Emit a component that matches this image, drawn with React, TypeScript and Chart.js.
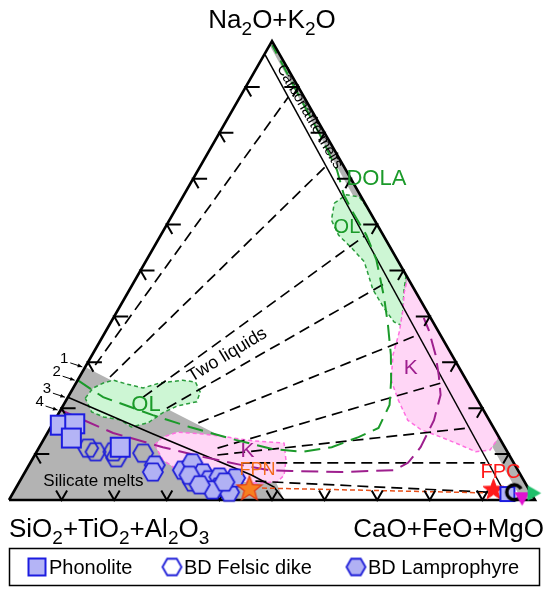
import React, { useEffect, useRef } from "react";
import { Chart, registerables } from "chart.js";

Chart.register(...registerables);

type TP = [number, number];

// Every composition is [CaO+FeO+MgO %, Na2O+K2O %]; SiO2+TiO2+Al2O3 is the remainder to 100 %.
const phonolite: TP[] = [[1.6, 16.3], [4.2, 16.6], [5.1, 13.5], [15.4, 11.5]];
const felsicDike: TP[] = [[9.4, 11.3], [11.2, 10.5], [14.6, 10.5], [15.8, 9.2], [20.4, 10.2], [33.0, 3.9], [37.8, 2.8]];
const lamprophyre: TP[] = [
  [23.9, 7.6], [24.3, 6.1], [29.8, 6.5], [30.8, 8.1], [33.9, 5.9], [31.6, 5.4], [35.9, 4.4],
  [37.5, 5.0], [38.6, 2.8], [41.0, 1.7], [40.6, 4.8], [37.6, 2.2], [34.6, 3.3], [39.0, 3.9],
];
const fpnPoint: TP[] = [[44.5, 2.4]];
const fpcPoint: TP[] = [[91.0, 2.2]];
const refSquare: TP[] = [[94.1, 1.3]];
const refRing: TP[] = [[95.2, 1.7]];
const refMagenta: TP[] = [[97.2, 0.7]];
const refGreen: TP[] = [[98.7, 1.5]];

const triangleOutline: TP[] = [[0, 0], [100, 0], [0, 100], [0, 0]];
const silicateField: TP[] = [[0, 0], [0, 29.0], [16.7, 21.4], [35.0, 13.1], [42.8, 8.7], [48.0, 4.8], [52.3, 0]];
const carbonatiteField: TP[] = [[0, 100], [100, 0], [97.5, 0], [0, 99.1]];
const olLeft: TP[] = [
  [3.4, 22.2], [3.8, 24.4], [5.2, 25.5], [6.8, 26.1], [9.6, 25.3], [13.3, 24.4], [15.9, 25.5], [20.0, 26.1],
  [22.6, 25.7], [24.6, 23.5], [25.0, 21.4], [21.8, 20.5], [19.7, 19.0], [18.0, 16.8], [15.3, 15.9],
  [12.6, 17.4], [8.9, 18.1], [6.1, 19.2],
];
const olRight: TP[] = [
  [29.5, 64.7], [30.9, 66.5], [33.6, 66.0], [36.8, 63.2], [51.0, 49.0], [52.2, 45.8], [54.2, 41.4],
  [55.5, 38.1], [53.8, 38.8], [50.4, 41.8], [46.3, 45.8], [41.6, 51.9], [37.7, 54.9], [33.8, 57.7], [30.8, 61.0],
];
const kLeft: TP[] = [
  [21.7, 12.0], [22.4, 13.7], [24.7, 14.8], [29.6, 14.4], [34.7, 13.7], [39.8, 12.9], [46.1, 12.4],
  [48.3, 8.7], [49.6, 5.4], [49.0, 3.9], [45.4, 3.7], [40.5, 4.1], [34.4, 4.8], [28.9, 6.5], [24.9, 8.7],
];
const kRight: TP[] = [
  [51.6, 48.4], [86.3, 13.7], [86.0, 10.9], [83.5, 10.5], [79.8, 12.0], [75.3, 13.7], [70.7, 15.3],
  [67.1, 17.4], [63.1, 21.8], [59.6, 26.1], [57.2, 31.6], [55.9, 36.6], [54.2, 41.4], [52.5, 45.3],
];
const solvusInner: TP[] = [[0.2, 97.0], [95.0, 0]];
const solvusBlack: TP[] = [[0, 22.4], [20.2, 14.4], [43.5, 5.4], [49.0, 2.8], [52.3, 0]];
const solvusOL: TP[] = [
  [0, 26.1], [6.7, 22.4], [18.1, 18.5], [26.4, 15.9], [36.5, 13.1], [44.5, 11.1], [50.4, 10.5], [55.6, 11.5],
  [59.6, 13.7], [62.4, 15.7], [62.0, 20.7], [59.6, 26.1], [56.8, 31.6], [53.0, 38.1], [49.2, 44.2],
  [43.7, 52.3], [39.1, 57.7], [34.2, 62.5], [30.4, 66.5], [26.4, 71.9], [19.4, 79.5], [10.3, 88.9], [0.5, 99.1],
];
const solvusK: TP[] = [
  [0, 19.6], [12.5, 14.6], [23.5, 11.5], [32.1, 9.4], [40.5, 7.6], [46.2, 6.5], [50.6, 6.3], [60.2, 6.1],
  [70.0, 6.5], [71.8, 8.1], [72.5, 11.5], [72.1, 17.4], [70.6, 22.9], [68.1, 27.2], [65.3, 31.6],
  [61.3, 37.0], [59.0, 39.7],
];
const tieLines: TP[][] = [
  [[1.7, 29.4], [9.2, 87.8]],
  [[5.8, 26.8], [23.9, 72.8]],
  [[14.3, 22.4], [38.8, 57.5]],
  [[20.0, 20.0], [48.4, 47.7]],
  [[27.6, 16.8], [59.8, 36.0]],
  [[34.0, 11.3], [69.9, 25.7]],
  [[34.7, 9.8], [79.7, 15.7]],
  [[40.3, 8.1], [86.5, 8.1]],
  [[44.8, 4.1], [90.1, 1.7]],
];
const fpnFpcLine: TP[] = [[46.8, 2.6], [92.1, 1.5]];
const tickValues = [10, 20, 30, 40, 50, 60, 70, 80, 90];
const boundaryNames = ["1", "2", "3", "4"];

const FONT = '"Liberation Sans", Arial, Helvetica, sans-serif';
const GREEN = "#1b9a2a";
const MAGENTA = "#9e1f8e";

const annotations: { text: string; at: TP; size: number; color: string; rot?: number }[] = [
  { text: "Silicate melts", at: [14.0, 4.1], size: 17, color: "#000" },
  { text: "Two liquids", at: [25.7, 31.6], size: 18, color: "#000", rot: -31 },
  { text: "OL", at: [15.7, 20.7], size: 22, color: GREEN },
  { text: "OL", at: [34.6, 59.3], size: 20, color: GREEN },
  { text: "DOLA", at: [34.9, 69.9], size: 22, color: GREEN },
  { text: "K", at: [62.0, 28.8], size: 21, color: MAGENTA },
  { text: "K", at: [40.0, 10.7], size: 21, color: MAGENTA },
  { text: "FPN", at: [44.0, 6.5], size: 18, color: "#f26a1b" },
  { text: "FPC", at: [90.4, 6.1], size: 20, color: "#ff1a1a" },
  { text: "Carbonatite melts", at: [15.4, 83.5], size: 15, color: "#000", rot: 60 },
];

const toXY = (p: TP) => ({ x: p[0] + p[1] / 2, y: p[1] });
const closed = (pts: TP[]) => [...pts, pts[0]].map(toXY);

function makeCanvas(s: number) {
  const c = document.createElement("canvas");
  c.width = s;
  c.height = s;
  return c;
}
function hexImage(r: number, fill: string | null, stroke: string, lw: number) {
  const s = Math.ceil(2 * r + lw + 2);
  const c = makeCanvas(s);
  const g = c.getContext("2d")!;
  g.beginPath();
  for (let i = 0; i < 6; i++) {
    const a = (Math.PI / 3) * i;
    const x = s / 2 + r * Math.cos(a);
    const y = s / 2 + r * Math.sin(a);
    if (i === 0) g.moveTo(x, y);
    else g.lineTo(x, y);
  }
  g.closePath();
  if (fill) {
    g.fillStyle = fill;
    g.fill();
  }
  g.strokeStyle = stroke;
  g.lineWidth = lw;
  g.stroke();
  return c;
}
function squareImage(side: number, fill: string, stroke: string, lw: number) {
  const s = Math.ceil(side + lw + 2);
  const c = makeCanvas(s);
  const g = c.getContext("2d")!;
  g.beginPath();
  g.rect((s - side) / 2, (s - side) / 2, side, side);
  g.fillStyle = fill;
  g.fill();
  g.strokeStyle = stroke;
  g.lineWidth = lw;
  g.stroke();
  return c;
}
function starImage(R: number, r: number, fill: string, stroke: string, lw: number) {
  const s = Math.ceil(2 * R + lw + 2);
  const c = makeCanvas(s);
  const g = c.getContext("2d")!;
  g.beginPath();
  for (let i = 0; i < 10; i++) {
    const a = -Math.PI / 2 + (i * Math.PI) / 5;
    const rr = i % 2 ? r : R;
    const x = s / 2 + rr * Math.cos(a);
    const y = s / 2 + rr * Math.sin(a);
    if (i === 0) g.moveTo(x, y);
    else g.lineTo(x, y);
  }
  g.closePath();
  g.fillStyle = fill;
  g.fill();
  g.strokeStyle = stroke;
  g.lineWidth = lw;
  g.stroke();
  return c;
}
function triImage(r: number, start: number, fill: string) {
  const s = Math.ceil(2 * r + 3);
  const c = makeCanvas(s);
  const g = c.getContext("2d")!;
  g.beginPath();
  for (let i = 0; i < 3; i++) {
    const a = start + (i * 2 * Math.PI) / 3;
    const x = s / 2 + r * Math.cos(a);
    const y = s / 2 + r * Math.sin(a);
    if (i === 0) g.moveTo(x, y);
    else g.lineTo(x, y);
  }
  g.closePath();
  g.fillStyle = fill;
  g.fill();
  return c;
}
function ringImage(r: number, stroke: string, lw: number) {
  const s = Math.ceil(2 * r + lw + 2);
  const c = makeCanvas(s);
  const g = c.getContext("2d")!;
  g.beginPath();
  g.arc(s / 2, s / 2, r, 0.25 * Math.PI, 1.85 * Math.PI);
  g.strokeStyle = stroke;
  g.lineWidth = lw;
  g.stroke();
  return c;
}

function chemText(ctx: CanvasRenderingContext2D, parts: [string, boolean][], x: number, y: number, size: number, align: string) {
  const big = `${size}px ${FONT}`;
  const small = `${Math.round(size * 0.74)}px ${FONT}`;
  let w = 0;
  for (const [t, sub] of parts) {
    ctx.font = sub ? small : big;
    w += ctx.measureText(t).width;
  }
  let cx = align === "center" ? x - w / 2 : align === "right" ? x - w : x;
  ctx.textAlign = "left";
  ctx.textBaseline = "alphabetic";
  for (const [t, sub] of parts) {
    ctx.font = sub ? small : big;
    ctx.fillText(t, cx, sub ? y + size * 0.27 : y);
    cx += ctx.measureText(t).width;
  }
}

export default function App() {
  const ref = useRef<HTMLCanvasElement>(null);
  useEffect(() => {
    const canvas = ref.current;
    if (!canvas) return;
    const openHex = hexImage(10, null, "#1e1ed8", 1.8);
    const openHexLegend = hexImage(9.5, "#ffffff", "#1e1ed8", 1.8);
    const fillHex = hexImage(10, "#b1b1f4", "#1e1ed8", 1.8);
    const fillHexLegend = hexImage(9.5, "#b1b1f4", "#1e1ed8", 1.8);
    const sq = squareImage(19, "#b4b4f6", "#1c1ce0", 2);
    const sqLegend = squareImage(17, "#b4b4f6", "#1c1ce0", 2);
    const smallSq = squareImage(14, "#b4b4f6", "#1c1ce0", 2);
    const starOrange = starImage(13, 5.5, "#f7801f", "#e53b17", 1.3);
    const starRed = starImage(11, 4.5, "#ff1a1a", "#ff1a1a", 1);
    const ring = ringImage(7.5, "#000", 3.5);
    const triMag = triImage(9, Math.PI / 2, "#e010d0");
    const triGreen = triImage(9, 0, "#1fbf6a");

    const ds: any[] = [];
    const addPoly = (pts: TP[], bg: string, border: string | null, dash: number[] = []) =>
      ds.push({
        data: closed(pts), backgroundColor: bg, borderColor: border || "rgba(0,0,0,0)",
        borderWidth: border ? 1.5 : 0, borderDash: dash, fill: "shape", pointRadius: 0, tension: 0, clip: false,
      });
    const addLine = (pts: TP[], color: string, width: number, dash: number[] = []) =>
      ds.push({
        data: pts.map(toXY), borderColor: color, borderWidth: width, borderDash: dash, fill: false,
        pointRadius: 0, tension: 0, clip: false, borderJoinStyle: "miter", borderCapStyle: "butt",
      });
    const addPts = (pts: TP[], img: HTMLCanvasElement) =>
      ds.push({
        data: pts.map(toXY), showLine: false, pointStyle: img, pointRadius: 9, pointHoverRadius: 9,
        pointBorderWidth: 0, fill: false, clip: false,
      });

    addPoly(silicateField, "#b3b3b3", null);
    addPoly(carbonatiteField, "#b3b3b3", null);
    addPoly(olLeft, "#cdf6d4", "#2a9c3c", [4, 3]);
    addPoly(olRight, "#cdf6d4", "#2a9c3c", [4, 3]);
    addPoly(kLeft, "#ffd6f6", "#ff6fe0", [4, 3]);
    addPoly(kRight, "#ffd6f6", "#ff6fe0", [4, 3]);
    tieLines.forEach((t) => addLine(t, "#000", 1.7, [11, 6]));
    addLine(solvusInner, "#000", 1.5);
    addLine(solvusBlack, "#000", 1.6);
    addLine(solvusOL, GREEN, 2, [16, 8]);
    addLine(solvusK, MAGENTA, 2, [17, 8]);
    addLine(fpnFpcLine, "#e8501a", 1.5, [5, 3]);
    const outlineIndex = ds.length;
    addLine(triangleOutline, "#000", 2.6);
    addPts(felsicDike, openHex);
    addPts(lamprophyre, fillHex);
    addPts(phonolite, sq);
    addPts(fpnPoint, starOrange);
    addPts(fpcPoint, starRed);
    addPts(refSquare, smallSq);
    addPts(refRing, ring);
    addPts(refMagenta, triMag);
    addPts(refGreen, triGreen);
    ds.forEach((d, i) => (d.order = ds.length - i));

    const pt = (chart: any, p: TP) => ({
      x: chart.scales.x.getPixelForValue(p[0] + p[1] / 2),
      y: chart.scales.y.getPixelForValue(p[1]),
    });

    const decor = {
      id: "ternaryDecor",
      afterDatasetDraw(chart: any, args: any) {
        if (args.index !== outlineIndex) return;
        const ctx = chart.ctx as CanvasRenderingContext2D;
        ctx.save();
        ctx.strokeStyle = "#000";
        ctx.lineWidth = 2;
        for (const t of tickValues) {
          let p = pt(chart, [0, t]);
          ctx.beginPath();
          ctx.moveTo(p.x + 14, p.y);
          ctx.lineTo(p.x, p.y);
          ctx.lineTo(p.x + 5.5, p.y + 9.5);
          ctx.stroke();
          p = pt(chart, [100 - t, t]);
          ctx.beginPath();
          ctx.moveTo(p.x - 14, p.y);
          ctx.lineTo(p.x, p.y);
          ctx.lineTo(p.x - 5.5, p.y + 9.5);
          ctx.stroke();
          p = pt(chart, [t, 0]);
          ctx.beginPath();
          ctx.moveTo(p.x - 5.5, p.y - 9.5);
          ctx.lineTo(p.x, p.y);
          ctx.lineTo(p.x + 5.5, p.y - 9.5);
          ctx.stroke();
        }
        ctx.restore();
      },
      afterDatasetsDraw(chart: any) {
        const ctx = chart.ctx as CanvasRenderingContext2D;
        ctx.save();
        for (const a of annotations) {
          const p = pt(chart, a.at);
          ctx.save();
          ctx.translate(p.x, p.y);
          ctx.rotate(((a.rot || 0) * Math.PI) / 180);
          ctx.font = `${a.size}px ${FONT}`;
          ctx.fillStyle = a.color;
          ctx.textAlign = "center";
          ctx.textBaseline = "middle";
          ctx.fillText(a.text, 0, 0);
          ctx.restore();
        }
        // boundary numbers 1-4 with arrows pointing at where each boundary meets the left side
        const starts: TP[] = [silicateField[1], solvusOL[0], solvusBlack[0], solvusK[0]];
        boundaryNames.forEach((name, i) => {
          const e = pt(chart, starts[i]);
          ctx.fillStyle = "#000";
          ctx.font = `15px ${FONT}`;
          ctx.textAlign = "center";
          ctx.textBaseline = "middle";
          ctx.fillText(name, e.x - 21, e.y - 8);
          const x0 = e.x - 15, y0 = e.y - 4, x1 = e.x - 3, y1 = e.y;
          ctx.strokeStyle = "#000";
          ctx.lineWidth = 1;
          ctx.beginPath();
          ctx.moveTo(x0, y0);
          ctx.lineTo(x1, y1);
          ctx.stroke();
          const ang = Math.atan2(y1 - y0, x1 - x0);
          ctx.beginPath();
          ctx.moveTo(x1, y1);
          ctx.lineTo(x1 - 5 * Math.cos(ang - 0.4), y1 - 5 * Math.sin(ang - 0.4));
          ctx.lineTo(x1 - 5 * Math.cos(ang + 0.4), y1 - 5 * Math.sin(ang + 0.4));
          ctx.closePath();
          ctx.fill();
        });
        ctx.restore();
      },
      afterDraw(chart: any) {
        const ctx = chart.ctx as CanvasRenderingContext2D;
        ctx.save();
        ctx.fillStyle = "#000";
        const top = pt(chart, [0, 100]);
        const left = pt(chart, [0, 0]);
        const right = pt(chart, [100, 0]);
        chemText(ctx, [["Na", false], ["2", true], ["O+K", false], ["2", true], ["O", false]], top.x, top.y - 13, 26, "center");
        chemText(ctx, [["SiO", false], ["2", true], ["+TiO", false], ["2", true], ["+Al", false], ["2", true], ["O", false], ["3", true]], left.x, left.y + 37, 26, "left");
        chemText(ctx, [["CaO+FeO+MgO", false]], right.x + 9, right.y + 37, 26, "right");

        // legend
        ctx.strokeStyle = "#000";
        ctx.lineWidth = 1.5;
        ctx.strokeRect(9.5, 548.5, 530, 37);
        const cy = 567;
        const items: [HTMLCanvasElement, number, string][] = [
          [sqLegend, 37, "Phonolite"],
          [openHexLegend, 172, "BD Felsic dike"],
          [fillHexLegend, 356, "BD Lamprophyre"],
        ];
        ctx.font = `20px ${FONT}`;
        ctx.textAlign = "left";
        ctx.textBaseline = "middle";
        for (const [img, x, label] of items) {
          ctx.drawImage(img, x - img.width / 2, cy - img.height / 2);
          ctx.fillText(label, x + 12, cy + 1);
        }
        ctx.restore();
      },
    };

    const chart = new Chart(canvas, {
      type: "line",
      data: { datasets: ds },
      options: {
        responsive: false,
        animation: false,
        events: [],
        layout: { padding: { left: 5, right: 15, top: 41, bottom: 90 } },
        scales: {
          x: { type: "linear", min: 0, max: 100, display: false },
          y: { type: "linear", min: 0, max: 100, display: false },
        },
        plugins: { legend: { display: false }, tooltip: { enabled: false }, title: { display: false } },
      },
      plugins: [decor],
    } as any);
    return () => chart.destroy();
  }, []);
  return (
    <div style={{ position: "absolute", left: 0, top: 0, width: 550, height: 590, background: "#fff" }}>
      <canvas ref={ref} width={550} height={590} style={{ display: "block" }} />
    </div>
  );
}
